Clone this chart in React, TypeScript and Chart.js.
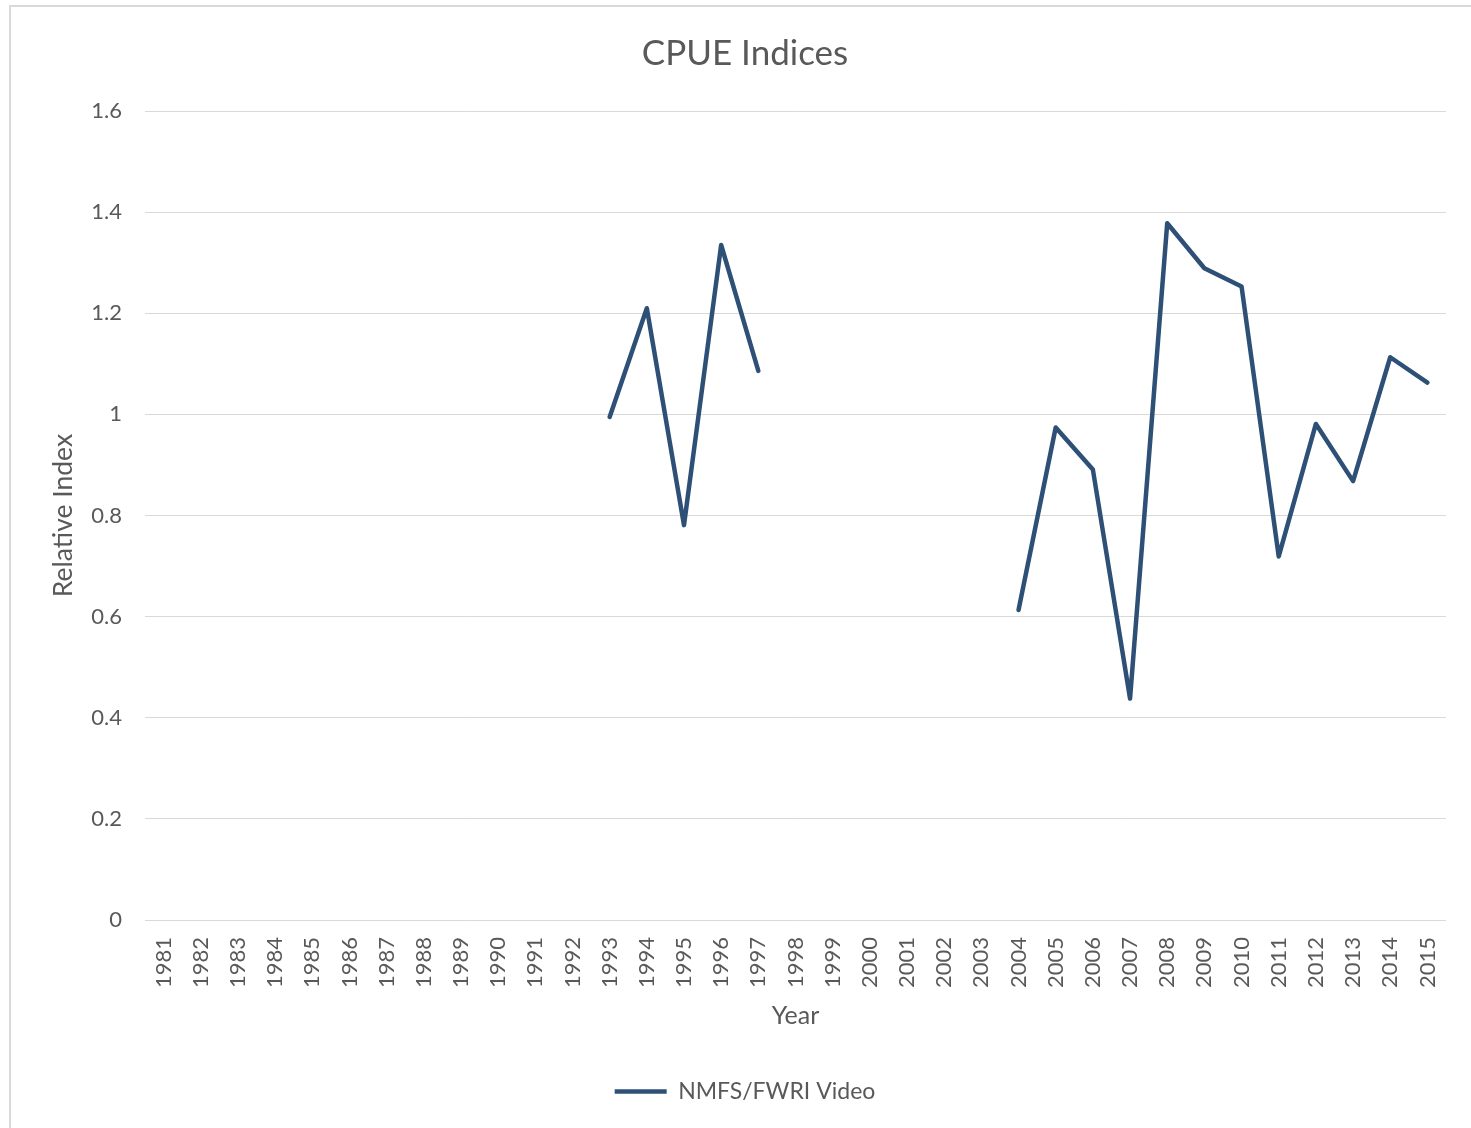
import React, { useEffect, useRef } from "react";
import { Chart, registerables } from "chart.js";

Chart.register(...registerables);

const years: string[] = [
  "1981", "1982", "1983", "1984", "1985", "1986", "1987", "1988", "1989", "1990",
  "1991", "1992", "1993", "1994", "1995", "1996", "1997", "1998", "1999", "2000",
  "2001", "2002", "2003", "2004", "2005", "2006", "2007", "2008", "2009", "2010",
  "2011", "2012", "2013", "2014", "2015",
];

const nmfsFwriVideo: (number | null)[] = [
  null, null, null, null, null, null, null, null, null, null,
  null, null, 0.995, 1.21, 0.781, 1.335, 1.086, null, null, null,
  null, null, null, 0.613, 0.974, 0.891, 0.438, 1.378, 1.289, 1.253,
  0.719, 0.981, 0.868, 1.113, 1.063,
];

const seriesName = "NMFS/FWRI Video";
const chartTitle = "CPUE Indices";
const xTitle = "Year";
const yTitle = "Relative Index";

const FONT = "Lato, 'Open Sans', sans-serif";
const TEXT = "#595959";
const GRID = "#d9d9d9";
const LINE = "#2E5077";

export default function App() {
  const ref = useRef<HTMLCanvasElement | null>(null);

  useEffect(() => {
    if (!ref.current) return;
    const chart = new Chart(ref.current, {
      type: "line",
      data: {
        labels: years,
        datasets: [
          {
            label: seriesName,
            data: nmfsFwriVideo,
            borderColor: LINE,
            backgroundColor: LINE,
            borderWidth: 4.5,
            pointRadius: 0,
            pointHoverRadius: 0,
            spanGaps: false,
            tension: 0,
            borderCapStyle: "round",
            borderJoinStyle: "round",
            yAxisID: "y",
          },
        ],
      },
      options: {
        responsive: false,
        animation: false,
        maintainAspectRatio: false,
        layout: { padding: { left: 0, right: 0, top: 0, bottom: 15 } },
        plugins: {
          title: {
            display: true,
            text: chartTitle,
            color: TEXT,
            font: { family: FONT, size: 35, weight: "normal" },
            padding: { top: 26, bottom: 36 },
          },
          legend: {
            display: true,
            position: "bottom",
            labels: {
              color: TEXT,
              font: { family: FONT, size: 23 },
              usePointStyle: true,
              pointStyle: "line",
              pointStyleWidth: 52,
              padding: 9,
            },
          },
          tooltip: { enabled: false },
        },
        scales: {
          x: {
            type: "category",
            offset: true,
            grid: { display: false, drawTicks: false },
            border: { display: false },
            ticks: {
              color: TEXT,
              font: { family: FONT, size: 22 },
              minRotation: 90,
              maxRotation: 90,
              autoSkip: false,
              padding: 17,
            },
            title: {
              display: true,
              text: xTitle,
              color: TEXT,
              font: { family: FONT, size: 25 },
              padding: { top: 0, bottom: 40 },
            },
            afterFit: (s: any) => {
              s.height = 151;
            },
          },
          y: {
            type: "linear",
            position: "left",
            min: 0,
            max: 1.6,
            grid: { color: GRID, lineWidth: 1, drawTicks: false },
            border: { display: false },
            ticks: {
              stepSize: 0.2,
              color: TEXT,
              font: { family: FONT, size: 22 },
              padding: 23,
              callback: (v: any) => String(Number(Number(v).toFixed(1))),
            },
            title: {
              display: true,
              text: yTitle,
              color: TEXT,
              font: { family: FONT, size: 26.5 },
              padding: { top: 37, bottom: 0 },
            },
            afterFit: (s: any) => {
              s.width = 134;
            },
          },
          yRight: {
            type: "linear",
            position: "right",
            display: true,
            grid: { display: false },
            border: { display: false },
            ticks: { display: false },
            afterFit: (s: any) => {
              s.width = 33;
            },
          },
        },
      },
    });
    return () => chart.destroy();
  }, []);

  return (
    <div
      style={{
        position: "absolute",
        left: 9,
        top: 5,
        width: 1500,
        height: 1200,
        border: "2px solid #d9d9d9",
        background: "#fff",
      }}
    >
      <canvas ref={ref} width={1468} height={1121} style={{ display: "block" }} />
    </div>
  );
}
